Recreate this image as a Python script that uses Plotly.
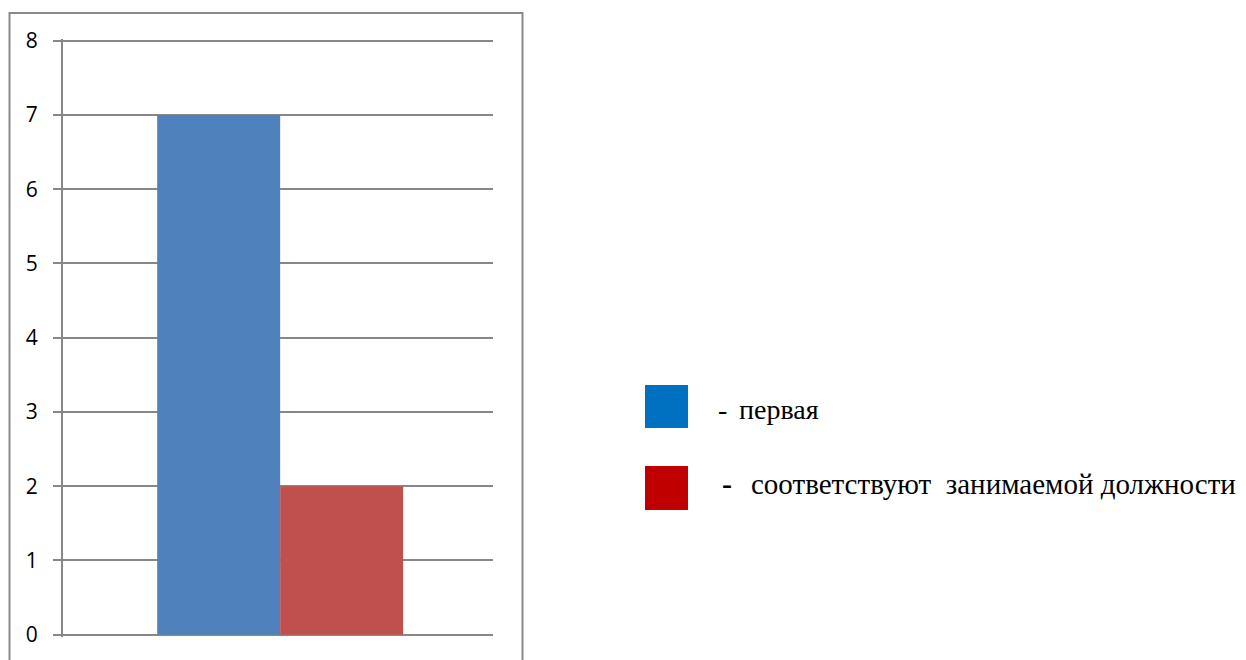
import plotly.graph_objects as go

W, H = 1246, 660
OFF = 8  # page offset of the plot div

categories = [""]
series_names = ["первая", "соответствуют  занимаемой должности"]
series_values = [[7], [2]]
bar_colors = ["#4F81BD", "#C0504D"]
legend_colors = ["#0070C0", "#C00000"]
y_ticks = [0, 1, 2, 3, 4, 5, 6, 7, 8]


def px(x):
    return (x - OFF) / W


def py(y):
    return 1 - (y - OFF) / H


fig = go.Figure()
for name, vals, col in zip(series_names, series_values, bar_colors):
    fig.add_trace(go.Bar(x=categories, y=vals, name=name, marker=dict(color=col, line=dict(width=0)),
                         showlegend=False))

grid = "#878787"
eps = 0.025
unit = (634.7 - 40.7) / 8
fig.update_layout(
    width=W, height=H,
    margin=dict(l=0, r=0, t=0, b=0, autoexpand=False),
    paper_bgcolor="white", plot_bgcolor="white",
    barmode="group", bargap=0.428, bargroupgap=0,
    xaxis=dict(domain=[px(63), px(493)], range=[-0.505, 0.495], showticklabels=False, showgrid=False,
               zeroline=False, showline=False, ticks="", automargin=False),
    yaxis=dict(domain=[py(634.7 + eps * unit), py(40.7 - eps * unit)], range=[-eps, 8 + eps],
               tickvals=y_ticks, automargin=False,
               showgrid=True, gridcolor=grid, gridwidth=2, zeroline=False,
               showline=True, linecolor=grid, linewidth=2,
               ticks="outside", ticklen=8, tickcolor=grid, tickwidth=2,
               ticklabelstandoff=11,
               tickfont=dict(family="Open Sans, Noto Sans, sans-serif", size=21, color="black")),
    font=dict(family="Liberation Serif", color="black"),
)

# chart frame
fig.add_shape(type="rect", xref="paper", yref="paper", x0=px(9.5), x1=px(522.5), y0=py(13), y1=-0.05,
              line=dict(color="#8a8a8a", width=2), fillcolor="rgba(0,0,0,0)", layer="below")

# custom legend
sq_y = [(385, 428), (466, 510)]
dash_x = [716, 720]
dash_y = [409, 483]
text_x = [737, 749]
text_y = [409, 484]
text_size = [28, 29]
for i, name in enumerate(series_names):
    y0, y1 = sq_y[i]
    fig.add_shape(type="rect", xref="paper", yref="paper", x0=px(645), x1=px(688), y0=py(y1), y1=py(y0),
                  line=dict(width=0), fillcolor=legend_colors[i])
    fig.add_annotation(xref="paper", yref="paper", x=px(dash_x[i]), y=py(dash_y[i]),
                       xanchor="left", yanchor="middle", showarrow=False,
                       text="<b>-</b>" if i == 1 else "-",
                       font=dict(family="Liberation Serif", size=30 if i == 1 else 28, color="black"))
    fig.add_annotation(xref="paper", yref="paper", x=px(text_x[i]), y=py(text_y[i]),
                       xanchor="left", yanchor="middle", showarrow=False, text=name,
                       font=dict(family="Liberation Serif", size=text_size[i], color="black"))

fig.write_html("out.html")
